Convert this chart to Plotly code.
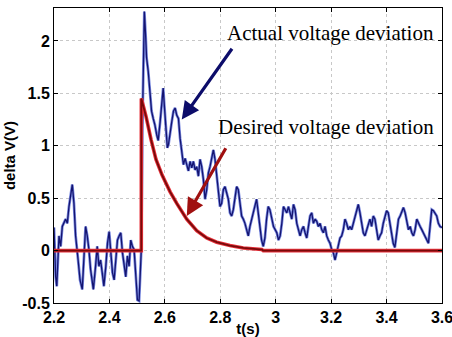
import plotly.graph_objects as go

# Actual voltage deviation (blue, noisy)
t_actual = [2.200,2.206,2.210,2.218,2.224,2.230,2.242,2.248,2.254,2.260,2.266,2.272,2.278,2.287,2.294,2.302,2.308,2.314,2.320,2.326,2.332,2.342,2.350,2.356,2.362,2.368,2.374,2.380,2.387,2.393,2.399,2.405,2.411,2.417,2.423,2.429,2.435,2.441,2.447,2.453,2.459,2.465,2.471,2.477,2.483,2.489,2.495,2.501,2.507,2.510,2.515,
            2.519,2.526,2.531,2.534,2.540,2.546,2.552,2.558,2.564,2.571,2.576,2.583,2.589,2.594,2.598,2.603,2.609,2.613,2.619,2.625,2.631,2.637,2.643,2.649,2.655,2.661,2.667,2.673,2.679,2.685,2.691,2.697,2.703,
            2.709,2.715,2.721,2.727,2.733,2.739,2.745,2.751,2.757,2.763,2.769,2.775,2.781,2.787,2.793,2.799,2.805,2.811,2.817,2.823,2.829,2.835,2.841,2.847,2.853,2.859,2.865,2.871,2.877,2.883,2.889,2.895,2.901,2.907,2.913,2.919,2.925,2.931,2.937,2.943,2.949,2.955,2.961,2.967,2.973,2.979,2.986,2.992,2.998,
            3.004,3.010,3.016,3.022,3.028,3.034,3.040,3.046,3.052,3.058,3.064,3.070,3.076,3.082,3.088,3.094,3.100,3.106,3.112,3.118,3.124,3.130,3.136,3.142,3.148,3.154,3.160,3.166,3.172,3.178,3.184,3.190,3.196,3.202,3.208,3.214,3.220,3.226,3.232,3.238,3.244,3.250,3.256,3.262,3.268,3.274,3.280,3.286,
            3.292,3.298,3.304,3.310,3.316,3.322,3.328,3.334,3.340,3.346,3.352,3.358,3.364,3.370,3.376,3.382,3.388,3.394,3.400,3.406,3.412,3.418,3.424,3.430,3.437,3.443,3.449,3.455,3.461,3.467,3.473,3.479,3.485,3.491,3.497,3.503,3.509,3.515,3.521,3.527,3.533,3.539,3.545,3.551,3.557,3.563,3.569,3.575,3.581,3.587,3.593,3.600]
v_actual = [0.22,-0.25,-0.34,0.14,0.04,0.23,0.30,0.26,0.42,0.52,0.63,0.45,0.14,-0.09,-0.28,-0.37,0.00,0.23,0.14,0.01,-0.18,-0.37,-0.15,0.04,-0.15,-0.09,-0.21,-0.34,-0.15,0.07,0.18,0.01,-0.21,-0.28,-0.05,0.10,0.14,0.17,-0.02,-0.12,-0.25,-0.05,-0.15,0.10,0.04,0.01,-0.28,-0.47,-0.48,-0.28,0.01,
            1.20,2.28,2.03,1.84,1.71,1.52,1.33,1.26,1.20,1.10,1.05,1.23,1.45,1.55,1.39,1.17,0.98,1.01,1.14,1.23,1.33,1.36,1.29,1.26,1.07,0.94,0.82,0.88,0.82,0.76,0.85,0.79,0.85,
            0.77,0.80,0.71,0.87,0.80,0.68,0.49,0.58,0.74,0.80,0.90,0.96,0.87,0.71,0.55,0.42,0.45,0.58,0.61,0.55,0.49,0.36,0.33,0.39,0.52,0.61,0.58,0.42,0.33,0.30,0.26,0.20,0.14,0.23,0.30,0.36,0.45,0.49,0.36,0.23,0.10,0.04,0.12,0.30,0.42,0.39,0.30,0.23,0.20,
            0.17,0.10,0.14,0.26,0.42,0.39,0.36,0.42,0.36,0.30,0.44,0.39,0.26,0.20,0.14,0.20,0.23,0.17,0.12,0.23,0.33,0.36,0.26,0.30,0.28,0.23,0.26,0.20,0.17,0.23,0.14,0.10,0.07,0.01,-0.02,-0.09,-0.02,0.07,0.12,0.14,0.20,0.30,0.26,0.20,0.23,0.20,0.26,0.33,
            0.39,0.44,0.36,0.26,0.17,0.14,0.20,0.26,0.30,0.23,0.33,0.30,0.20,0.10,0.14,0.17,0.26,0.33,0.38,0.36,0.26,0.20,0.07,0.03,0.20,0.30,0.33,0.38,0.41,0.36,0.26,0.20,0.23,0.17,0.14,0.20,0.30,0.26,0.23,0.20,0.17,0.14,0.10,0.07,0.23,0.39,0.38,0.36,0.33,0.26,0.23,0.22]

# Desired voltage deviation (red)
t_desired = [2.200,2.515,2.5151,2.532,2.550,2.568,2.590,2.619,2.643,2.679,2.715,2.751,2.787,2.835,2.883,2.950,2.955,3.600]
v_desired = [0.00,0.00,1.45,1.28,1.06,0.87,0.72,0.56,0.45,0.30,0.19,0.12,0.08,0.048,0.025,0.01,0.00,0.00]

x_ticks = [2.2,2.4,2.6,2.8,3.0,3.2,3.4,3.6]
x_labels = ["2.2","2.4","2.6","2.8","3","3.2","3.4","3.6"]
y_ticks = [-0.5,0,0.5,1,1.5,2]
y_labels = ["-0.5","0","0.5","1","1.5","2"]

fig = go.Figure()
fig.add_trace(go.Scatter(x=t_actual, y=v_actual, mode="lines",
                         line=dict(color="#7a8ae0", width=2.8), hoverinfo="skip", showlegend=False))
fig.add_trace(go.Scatter(x=t_actual, y=v_actual, mode="lines",
                         line=dict(color="#141470", width=1.3), showlegend=False))
fig.add_trace(go.Scatter(x=t_desired, y=v_desired, mode="lines",
                         line=dict(color="#e8303a", width=3.6), hoverinfo="skip", showlegend=False))
fig.add_trace(go.Scatter(x=t_desired, y=v_desired, mode="lines",
                         line=dict(color="#780a0a", width=1.8), showlegend=False))

serif = "Liberation Serif, Times New Roman, serif"
fig.add_annotation(x=2.818, y=2.076, xref="x", yref="y", text="Actual voltage deviation",
                   showarrow=False, xanchor="left", yanchor="middle",
                   font=dict(family=serif, size=21, color="black"))
fig.add_annotation(x=2.783, y=1.18, xref="x", yref="y", text="Desired voltage deviation",
                   showarrow=False, xanchor="left", yanchor="middle",
                   font=dict(family=serif, size=21, color="black"))
# arrows
fig.add_annotation(x=2.661, y=1.25, xref="x", yref="y", ax=2.846, ay=1.94, axref="x", ayref="y",
                   text="", showarrow=True, arrowhead=2, arrowsize=1.1, arrowwidth=3.2, arrowcolor="#0c0c6a")
fig.add_annotation(x=2.679, y=0.33, xref="x", yref="y", ax=2.823, ay=0.99, axref="x", ayref="y",
                   text="", showarrow=True, arrowhead=2, arrowsize=1.1, arrowwidth=3.2, arrowcolor="#a01010")

axis_font = dict(family="Liberation Sans, Arial, sans-serif", size=16, color="black", weight="bold")
title_font = dict(family="Liberation Sans, Arial, sans-serif", size=15, color="black", weight="bold")
fig.update_xaxes(range=[2.2, 3.6], tickvals=x_ticks, ticktext=x_labels,
                 showgrid=True, gridcolor="#c8c8c8", griddash="dot", gridwidth=1,
                 showline=True, linecolor="black", linewidth=1, mirror="ticks",
                 ticks="inside", ticklen=4, tickcolor="black", zeroline=False,
                 tickfont=axis_font, ticklabeloverflow="allow", automargin=False,
                 title=dict(text="t(s)", font=title_font, standoff=4))
fig.update_yaxes(range=[-0.5, 2.314], tickvals=y_ticks, ticktext=y_labels,
                 showgrid=True, gridcolor="#c8c8c8", griddash="dot", gridwidth=1,
                 showline=True, linecolor="black", linewidth=1, mirror="ticks",
                 ticks="inside", ticklen=4, tickcolor="black", zeroline=False,
                 tickfont=axis_font, ticklabeloverflow="allow", automargin=False,
                 title=dict(text="delta V(V)", font=title_font, standoff=2))

fig.update_layout(width=452, height=337, margin=dict(l=54, r=10, t=8, b=34),
                  plot_bgcolor="white", paper_bgcolor="white", showlegend=False)

fig.write_html("out.html")
